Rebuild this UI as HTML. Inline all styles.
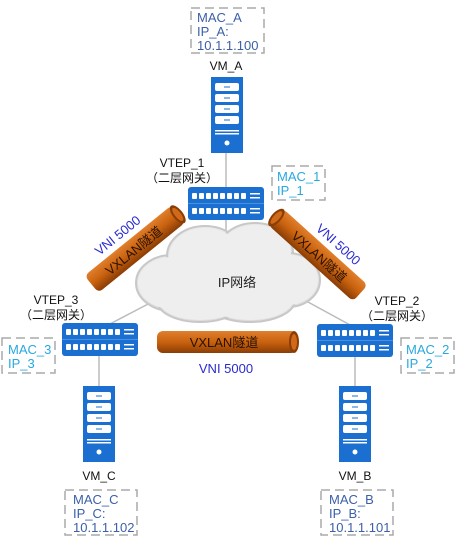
<!DOCTYPE html>
<html><head><meta charset="utf-8"><style>
html,body{margin:0;padding:0;background:#fff;}
svg{display:block;}
text{font-family:"Liberation Sans","Noto Sans CJK SC",sans-serif;}
</style></head><body>
<svg width="458" height="542" viewBox="0 0 458 542" xmlns="http://www.w3.org/2000/svg">
<defs>
<linearGradient id="tube" x1="0" y1="0" x2="0" y2="1">
<stop offset="0" stop-color="#e07f2c"/><stop offset="0.5" stop-color="#c9620f"/><stop offset="1" stop-color="#8a3d05"/>
</linearGradient>
<radialGradient id="cl" cx="0.5" cy="0.4" r="0.6">
<stop offset="0" stop-color="#ffffff"/><stop offset="1" stop-color="#dcdcdc"/>
</radialGradient>
<g id="server">
<rect x="0" y="0" width="32" height="76" fill="#1a6fd0"/>
<rect x="4" y="6" width="24" height="8" rx="2" fill="#fff"/>
<rect x="4" y="17" width="24" height="8" rx="2" fill="#fff"/>
<rect x="4" y="28" width="24" height="8" rx="2" fill="#fff"/>
<rect x="4" y="39" width="24" height="8" rx="2" fill="#fff"/>
<rect x="13" y="9.5" width="6" height="1" fill="#1a6fd0"/>
<rect x="13" y="20.5" width="6" height="1" fill="#1a6fd0"/>
<rect x="13" y="31.5" width="6" height="1" fill="#1a6fd0"/>
<rect x="13" y="42.5" width="6" height="1" fill="#1a6fd0"/>
<rect x="4" y="53" width="24" height="1.5" fill="#fff"/>
<rect x="4" y="56" width="24" height="1.5" fill="#fff"/>
<circle cx="16" cy="66" r="2.5" fill="#fff"/>
</g>
<g id="row">
<rect x="4" y="0" width="5" height="6" rx="1" fill="#fff"/><rect x="11" y="0" width="5" height="6" rx="1" fill="#fff"/>
<rect x="18" y="0" width="5" height="6" rx="1" fill="#fff"/><rect x="25" y="0" width="5" height="6" rx="1" fill="#fff"/>
<rect x="32" y="0" width="5" height="6" rx="1" fill="#fff"/><rect x="39" y="0" width="5" height="6" rx="1" fill="#fff"/>
<rect x="46" y="0" width="5" height="6" rx="1" fill="#fff"/><rect x="53" y="0" width="5" height="6" rx="1" fill="#fff"/>
<rect x="62" y="0" width="10" height="1.5" fill="#fff"/><rect x="62" y="4" width="10" height="1.5" fill="#fff"/>
</g>
<g id="switch">
<rect x="0" y="0" width="76" height="33" rx="3" fill="#1a6fd0"/>
<line x1="0" y1="16.5" x2="76" y2="16.5" stroke="#4a90e0" stroke-width="1"/>
<use href="#row" x="0" y="6"/>
<use href="#row" x="0" y="21"/>
</g>
</defs>

<line x1="226" y1="150" x2="226" y2="240" stroke="#bbb" stroke-width="1.5"/>
<line x1="108" y1="325" x2="150" y2="303" stroke="#bbb" stroke-width="1.5"/>
<line x1="352" y1="326" x2="308" y2="302" stroke="#bbb" stroke-width="1.5"/>
<line x1="99" y1="355" x2="99" y2="388" stroke="#bbb" stroke-width="1.5"/>
<line x1="355" y1="356" x2="355" y2="388" stroke="#bbb" stroke-width="1.5"/>

<g stroke="#c8c8c8" stroke-width="2" fill="url(#cl)">
<ellipse cx="172" cy="283" rx="36" ry="28"/>
<ellipse cx="205" cy="256" rx="38" ry="30"/>
<ellipse cx="255" cy="253" rx="38" ry="30"/>
<ellipse cx="288" cy="280" rx="32" ry="27"/>
<ellipse cx="250" cy="300" rx="45" ry="22"/>
<ellipse cx="200" cy="302" rx="42" ry="20"/>
</g>
<g fill="#eeeeee">
<ellipse cx="172" cy="283" rx="34" ry="26"/>
<ellipse cx="205" cy="256" rx="36" ry="28"/>
<ellipse cx="255" cy="253" rx="36" ry="28"/>
<ellipse cx="288" cy="280" rx="30" ry="25"/>
<ellipse cx="250" cy="300" rx="43" ry="20"/>
<ellipse cx="200" cy="302" rx="40" ry="18"/>
<ellipse cx="230" cy="280" rx="60" ry="28"/>
</g>
<text x="237" y="287" font-size="13" text-anchor="middle" fill="#222">IP网络</text>

<g transform="translate(135,249) rotate(-39)">
<rect x="-56" y="-11" width="112" height="22" rx="5" fill="url(#tube)"/>
<ellipse cx="55" cy="0" rx="5" ry="11" fill="#8a3d05"/><ellipse cx="55" cy="0" rx="3" ry="8" fill="#d06a18"/>
<text x="-2" y="5" font-size="13" text-anchor="middle" fill="#2a1200">VXLAN隧道</text>
<text x="-5" y="-17" font-size="13" text-anchor="middle" fill="#2a2ad0">VNI 5000</text>
</g>
<g transform="translate(318,255) rotate(42)">
<rect x="-57" y="-11" width="114" height="22" rx="5" fill="url(#tube)"/>
<ellipse cx="-56" cy="0" rx="5" ry="11" fill="#8a3d05"/><ellipse cx="-56" cy="0" rx="3" ry="8" fill="#d06a18"/>
<text x="2" y="5" font-size="13" text-anchor="middle" fill="#2a1200">VXLAN隧道</text>
<text x="8" y="-17" font-size="13" text-anchor="middle" fill="#2a2ad0">VNI 5000</text>
</g>
<g transform="translate(227,342)">
<rect x="-70" y="-11" width="140" height="22" rx="6" fill="url(#tube)"/>
<ellipse cx="67" cy="0" rx="5" ry="11" fill="#8a3d05"/><ellipse cx="67" cy="0" rx="3" ry="8" fill="#d06a18"/>
<text x="-3" y="5" font-size="13" text-anchor="middle" fill="#2a1200">VXLAN隧道</text>
</g>
<text x="226" y="373" font-size="13" text-anchor="middle" fill="#2a2ad0">VNI 5000</text>

<use href="#server" x="211" y="77"/>
<use href="#switch" x="188" y="187"/>
<use href="#switch" x="62" y="323"/>
<use href="#switch" x="317" y="324"/>
<use href="#server" x="83" y="386"/>
<use href="#server" x="339" y="386"/>

<g font-size="12" fill="#111" text-anchor="middle">
<text x="226" y="70">VM_A</text>
<text x="182" y="167">VTEP_1</text>
<text x="182" y="182">（二层网关）</text>
<text x="56" y="304">VTEP_3</text>
<text x="56" y="319">（二层网关）</text>
<text x="397" y="305">VTEP_2</text>
<text x="397" y="320">（二层网关）</text>
<text x="99" y="480">VM_C</text>
<text x="355" y="480">VM_B</text>
</g>

<g fill="none" stroke="#aaa" stroke-width="1.5" stroke-dasharray="9,5">
<rect x="191" y="8" width="73" height="45"/>
<rect x="272" y="166" width="53" height="34"/>
<rect x="2" y="338" width="53" height="35"/>
<rect x="401" y="338" width="53" height="35"/>
<rect x="65" y="490" width="72" height="45"/>
<rect x="321" y="490" width="72" height="45"/>
</g>
<g font-size="13" fill="#3b5fa8">
<text x="197" y="22">MAC_A</text><text x="197" y="36">IP_A:</text><text x="197" y="50">10.1.1.100</text>
<text x="73" y="504">MAC_C</text><text x="73" y="518">IP_C:</text><text x="73" y="532">10.1.1.102</text>
<text x="329" y="504">MAC_B</text><text x="329" y="518">IP_B:</text><text x="329" y="532">10.1.1.101</text>
</g>
<g font-size="13" fill="#29a8e0">
<text x="277" y="181">MAC_1</text><text x="277" y="195">IP_1</text>
<text x="8" y="354">MAC_3</text><text x="8" y="368">IP_3</text>
<text x="406" y="354">MAC_2</text><text x="406" y="368">IP_2</text>
</g>
</svg>
</body></html>
